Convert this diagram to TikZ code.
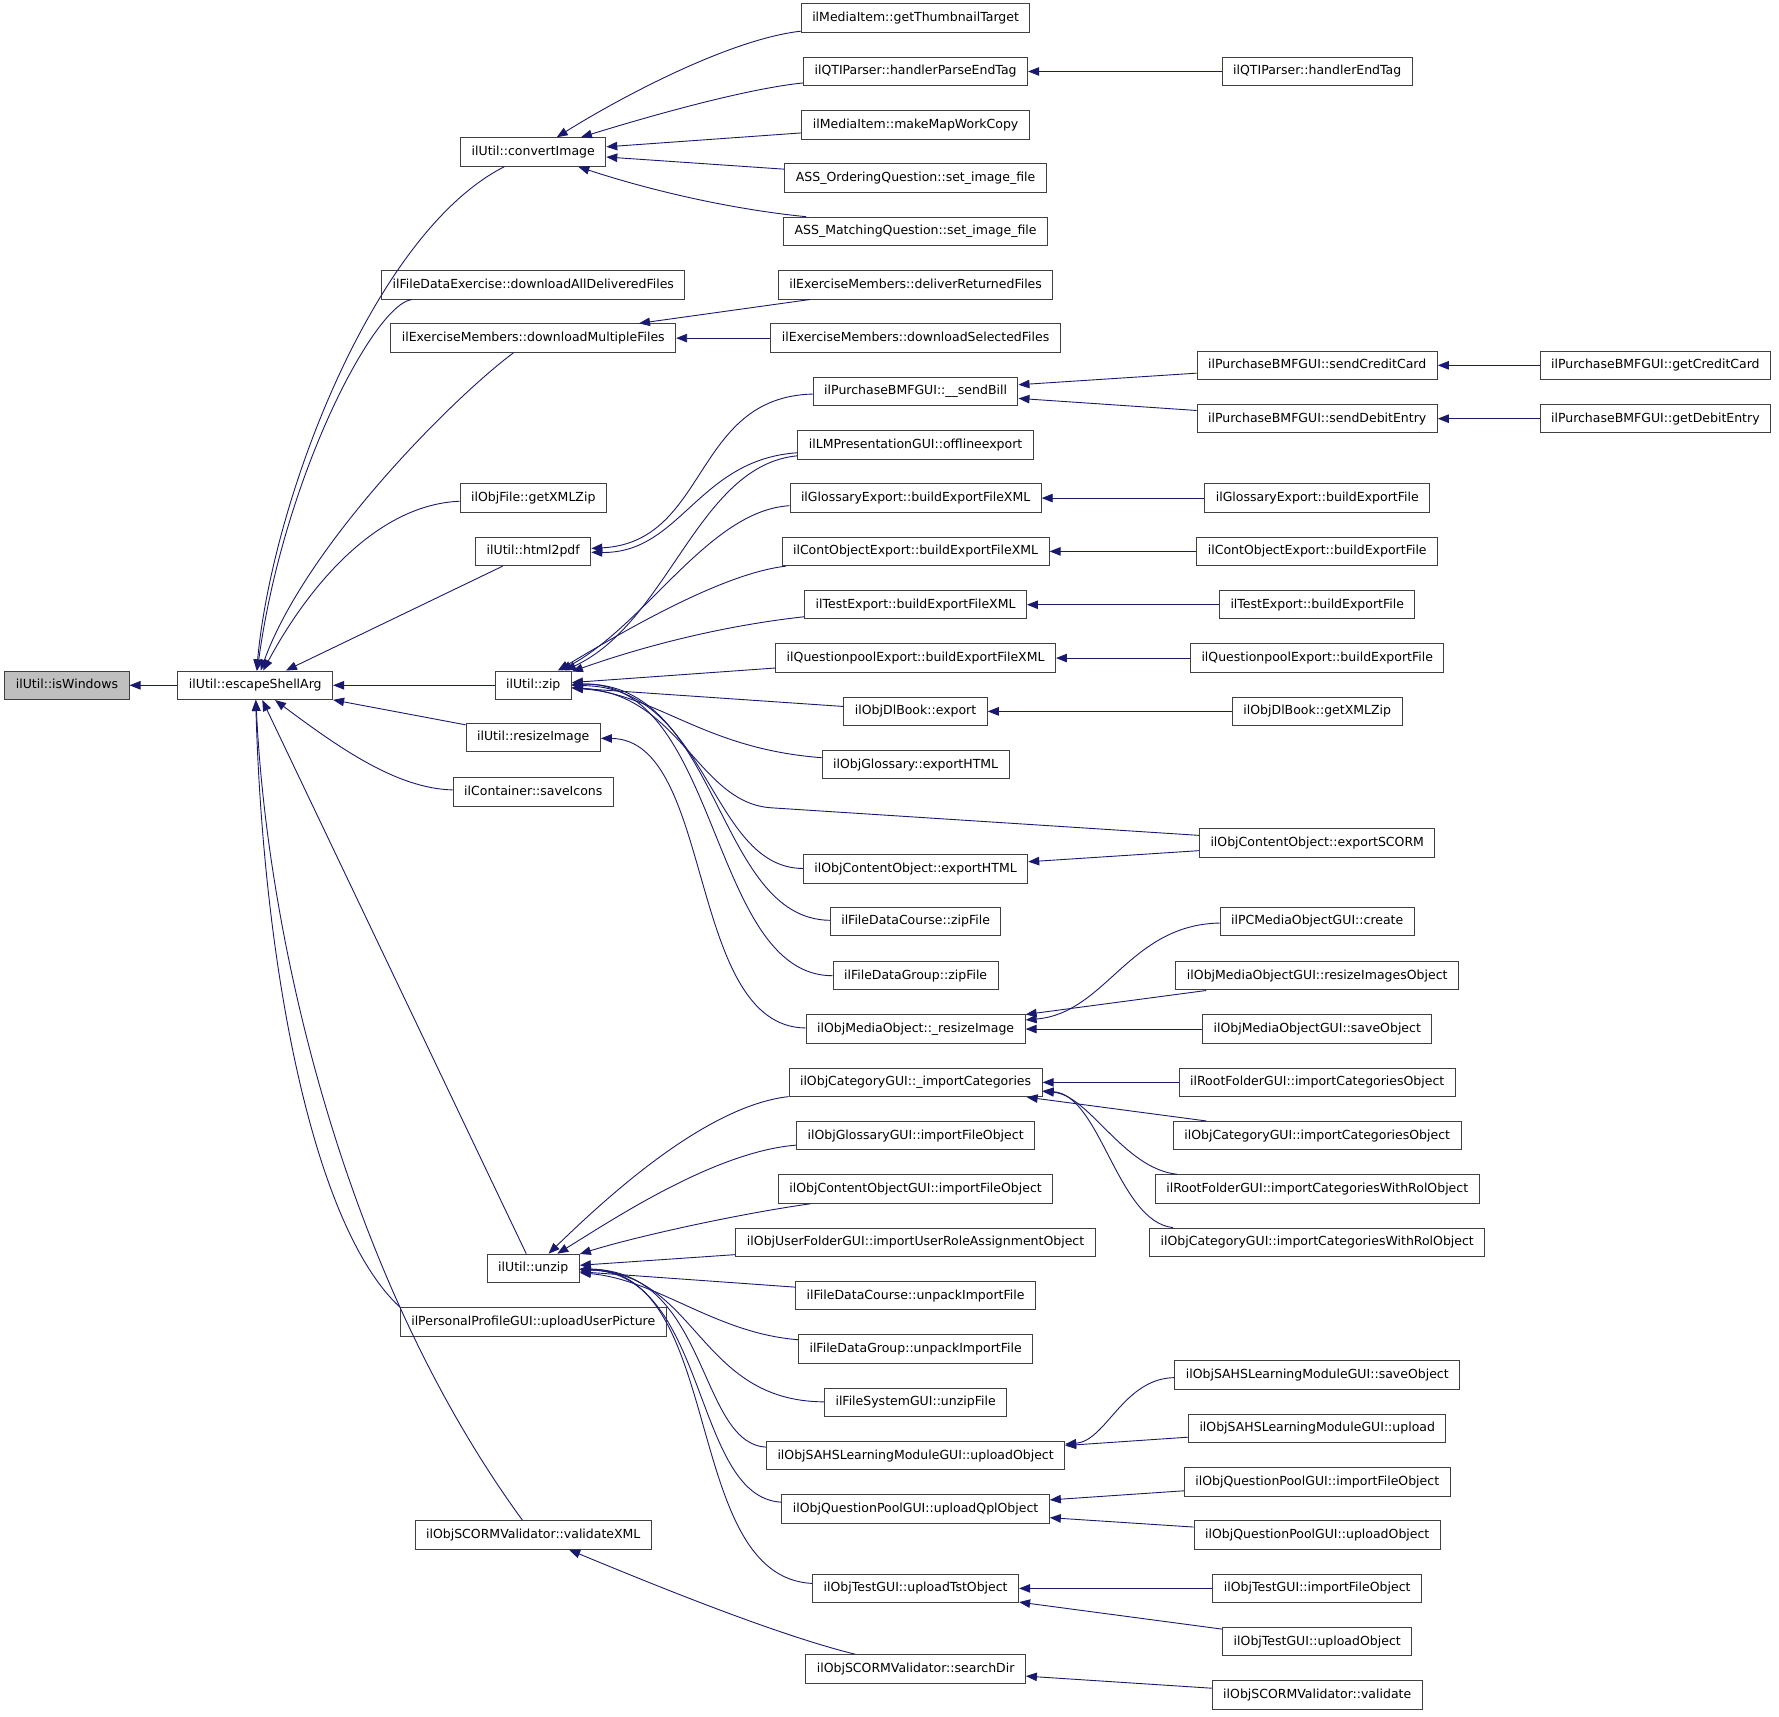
\documentclass[tikz,border=0pt]{standalone}
\usepackage{fontspec}
\setmainfont{DejaVu Sans}
\usepackage{xcolor}
\usepackage{tikz}
\usetikzlibrary{arrows.meta}

\definecolor{edgeblue}{HTML}{191970}
\definecolor{focusgray}{HTML}{BFBFBF}

\begin{document}
\begin{tikzpicture}[
    x=1.1346pt, y=-1.1346pt,
    fn/.style={rectangle, draw=black!75, line width=1pt, fill=white, inner xsep=11pt, inner ysep=0pt, minimum height=28.5pt, text height=9.5pt, text depth=2.5pt, font=\fontsize{12.5}{14}\selectfont},
    focus/.style={fn, fill=focusgray},
    arrow/.style={<-, >={Triangle[length=11pt, width=8.5pt]}, draw=edgeblue, line width=0.9pt}
]
\useasboundingbox (0,0) rectangle (1568,1513);

% Root and direct caller
\node[focus] (isWin) at (59, 604) {ilUtil::isWindows};
\node[fn] (escArg) at (225, 604) {ilUtil::escapeShellArg};

% Callers of escapeShellArg
\node[fn] (convImg) at (470, 134) {ilUtil::convertImage};
\node[fn] (dlAll) at (470, 251) {ilFileDataExercise::downloadAllDeliveredFiles};
\node[fn] (dlMulti) at (470, 298) {ilExerciseMembers::downloadMultipleFiles};
\node[fn] (objFileZip) at (470, 439) {ilObjFile::getXMLZip};
\node[fn] (html2pdf) at (470, 486) {ilUtil::html2pdf};
\node[fn] (zip) at (470, 604) {ilUtil::zip};
\node[fn] (resizeImg) at (470, 650) {ilUtil::resizeImage};
\node[fn] (saveIcons) at (470, 698) {ilContainer::saveIcons};
\node[fn] (unzip) at (470, 1118) {ilUtil::unzip};
\node[fn] (uploadPic) at (470, 1165) {ilPersonalProfileGUI::uploadUserPicture};
\node[fn] (validateXML) at (470, 1353) {ilObjSCORMValidator::validateXML};

% Third level
\node[fn] (thumb) at (807, 16) {ilMediaItem::getThumbnailTarget};
\node[fn] (parseEnd) at (807, 63) {ilQTIParser::handlerParseEndTag};
\node[fn] (mapCopy) at (807, 110) {ilMediaItem::makeMapWorkCopy};
\node[fn] (ordering) at (807, 157) {ASS\_OrderingQuestion::set\_image\_file};
\node[fn] (matching) at (807, 204) {ASS\_MatchingQuestion::set\_image\_file};
\node[fn] (deliverRet) at (807, 251) {ilExerciseMembers::deliverReturnedFiles};
\node[fn] (dlSel) at (807, 298) {ilExerciseMembers::downloadSelectedFiles};
\node[fn] (sendBill) at (807, 345) {ilPurchaseBMFGUI::\_\_sendBill};
\node[fn] (offline) at (807, 392) {ilLMPresentationGUI::offlineexport};
\node[fn] (glossXML) at (807, 439) {ilGlossaryExport::buildExportFileXML};
\node[fn] (contXML) at (807, 486) {ilContObjectExport::buildExportFileXML};
\node[fn] (testXML) at (807, 533) {ilTestExport::buildExportFileXML};
\node[fn] (qpoolXML) at (807, 580) {ilQuestionpoolExport::buildExportFileXML};
\node[fn] (dlExport) at (807, 627) {ilObjDlBook::export};
\node[fn] (glossHTML) at (807, 674) {ilObjGlossary::exportHTML};
\node[fn] (coHTML) at (807, 766) {ilObjContentObject::exportHTML};
\node[fn] (courseZip) at (807, 812) {ilFileDataCourse::zipFile};
\node[fn] (groupZip) at (807, 860) {ilFileDataGroup::zipFile};
\node[fn] (moResize) at (807, 907) {ilObjMediaObject::\_resizeImage};
\node[fn] (importCat) at (807, 954) {ilObjCategoryGUI::\_importCategories};
\node[fn] (glossImport) at (807, 1001) {ilObjGlossaryGUI::importFileObject};
\node[fn] (coImport) at (807, 1048) {ilObjContentObjectGUI::importFileObject};
\node[fn] (roleImport) at (807, 1095) {ilObjUserFolderGUI::importUserRoleAssignmentObject};
\node[fn] (courseUnpack) at (807, 1142) {ilFileDataCourse::unpackImportFile};
\node[fn] (groupUnpack) at (807, 1189) {ilFileDataGroup::unpackImportFile};
\node[fn] (unzipFile) at (807, 1236) {ilFileSystemGUI::unzipFile};
\node[fn] (sahsUpload) at (807, 1283) {ilObjSAHSLearningModuleGUI::uploadObject};
\node[fn] (qplUpload) at (807, 1330) {ilObjQuestionPoolGUI::uploadQplObject};
\node[fn] (tstUpload) at (807, 1400) {ilObjTestGUI::uploadTstObject};
\node[fn] (searchDir) at (807, 1471) {ilObjSCORMValidator::searchDir};

% Fourth level
\node[fn] (endTag) at (1161, 63) {ilQTIParser::handlerEndTag};
\node[fn] (creditCard) at (1161, 322) {ilPurchaseBMFGUI::sendCreditCard};
\node[fn] (debitEntry) at (1161, 369) {ilPurchaseBMFGUI::sendDebitEntry};
\node[fn] (glossFile) at (1161, 439) {ilGlossaryExport::buildExportFile};
\node[fn] (contFile) at (1161, 486) {ilContObjectExport::buildExportFile};
\node[fn] (testFile) at (1161, 533) {ilTestExport::buildExportFile};
\node[fn] (qpoolFile) at (1161, 580) {ilQuestionpoolExport::buildExportFile};
\node[fn] (dlZip) at (1161, 627) {ilObjDlBook::getXMLZip};
\node[fn] (exportSCORM) at (1161, 743) {ilObjContentObject::exportSCORM};
\node[fn] (pcCreate) at (1161, 812) {ilPCMediaObjectGUI::create};
\node[fn] (moResizeObj) at (1161, 860) {ilObjMediaObjectGUI::resizeImagesObject};
\node[fn] (moSave) at (1161, 907) {ilObjMediaObjectGUI::saveObject};
\node[fn] (rootImport) at (1161, 954) {ilRootFolderGUI::importCategoriesObject};
\node[fn] (catImport) at (1161, 1001) {ilObjCategoryGUI::importCategoriesObject};
\node[fn] (rootImportRol) at (1161, 1048) {ilRootFolderGUI::importCategoriesWithRolObject};
\node[fn] (catImportRol) at (1161, 1095) {ilObjCategoryGUI::importCategoriesWithRolObject};
\node[fn] (sahsSave) at (1161, 1212) {ilObjSAHSLearningModuleGUI::saveObject};
\node[fn] (sahsUp) at (1161, 1259) {ilObjSAHSLearningModuleGUI::upload};
\node[fn] (qpImport) at (1161, 1306) {ilObjQuestionPoolGUI::importFileObject};
\node[fn] (qpUpload) at (1161, 1353) {ilObjQuestionPoolGUI::uploadObject};
\node[fn] (tstImport) at (1161, 1400) {ilObjTestGUI::importFileObject};
\node[fn] (tstUp) at (1161, 1447) {ilObjTestGUI::uploadObject};
\node[fn] (validate) at (1161, 1494) {ilObjSCORMValidator::validate};

% Fifth level
\node[fn] (getCredit) at (1459, 322) {ilPurchaseBMFGUI::getCreditCard};
\node[fn] (getDebit) at (1459, 369) {ilPurchaseBMFGUI::getDebitEntry};

% Edges into escapeShellArg
\draw[arrow] (isWin) -- (escArg);
\draw[arrow] (escArg) .. controls (240,440) and (330,205) .. (convImg);
\draw[arrow] (escArg) .. controls (250,420) and (330,268) .. (dlAll);
\draw[arrow] (escArg) .. controls (270,480) and (400,350) .. (dlMulti);
\draw[arrow] (escArg) .. controls (270,520) and (330,445) .. (objFileZip);
\draw[arrow] (escArg) -- (html2pdf);
\draw[arrow] (escArg) -- (zip);
\draw[arrow] (escArg) -- (resizeImg);
\draw[arrow] (escArg) .. controls (300,660) and (350,695) .. (saveIcons);
\draw[arrow] (escArg) -- (unzip);
\draw[arrow] (escArg) .. controls (232,850) and (275,1080) .. (uploadPic.north west);
\draw[arrow] (escArg) .. controls (235,820) and (300,1120) .. (validateXML);

% convertImage, downloadMultipleFiles, html2pdf
\draw[arrow] (convImg) .. controls (540,90) and (640,35) .. (thumb);
\draw[arrow] (convImg) .. controls (580,100) and (660,78) .. (parseEnd);
\draw[arrow] (convImg) -- (mapCopy);
\draw[arrow] (convImg) -- (ordering);
\draw[arrow] (convImg) .. controls (580,170) and (650,185) .. ([xshift=23pt]matching.north west);
\draw[arrow] (parseEnd) -- (endTag);
\draw[arrow] (dlMulti) -- (deliverRet);
\draw[arrow] (dlMulti) -- (dlSel);
\draw[arrow] (html2pdf) .. controls (625,478) and (610,350) .. (sendBill);
\draw[arrow] (html2pdf) .. controls (600,488) and (615,405) .. (offline);

% zip and resizeImage
\draw[arrow] (zip) .. controls (590,548) and (615,410) .. (offline);
\draw[arrow] (zip) .. controls (570,550) and (625,450) .. (glossXML);
\draw[arrow] (zip) .. controls (560,550) and (640,505) .. (contXML);
\draw[arrow] (zip) .. controls (580,565) and (650,550) .. (testXML);
\draw[arrow] (zip) -- (qpoolXML);
\draw[arrow] (zip) -- (dlExport);
\draw[arrow] (zip) .. controls (580,612) and (620,660) .. (glossHTML);
\draw[arrow] (zip) .. controls (600,612) and (615,708) .. (680,712) -- (exportSCORM);
\draw[arrow] (zip) .. controls (625,605) and (625,765) .. (coHTML);
\draw[arrow] (zip) .. controls (635,600) and (630,810) .. (courseZip);
\draw[arrow] (zip) .. controls (635,600) and (625,860) .. (groupZip);
\draw[arrow] (resizeImg) .. controls (630,652) and (605,905) .. (moResize);
\draw[arrow] (coHTML) -- (exportSCORM);

% Right side
\draw[arrow] (sendBill) -- (creditCard);
\draw[arrow] (sendBill) -- (debitEntry);
\draw[arrow] (creditCard) -- (getCredit);
\draw[arrow] (debitEntry) -- (getDebit);
\draw[arrow] (glossXML) -- (glossFile);
\draw[arrow] (contXML) -- (contFile);
\draw[arrow] (testXML) -- (testFile);
\draw[arrow] (qpoolXML) -- (qpoolFile);
\draw[arrow] (dlExport) -- (dlZip);
\draw[arrow] (moResize) .. controls (975,893) and (995,815) .. (pcCreate);
\draw[arrow] (moResize) -- (moResizeObj);
\draw[arrow] (moResize) -- (moSave);
\draw[arrow] (importCat) -- (rootImport);
\draw[arrow] (importCat) -- (catImport);
\draw[arrow] (importCat) .. controls (960,965) and (990,1030) .. (rootImportRol);
\draw[arrow] (importCat) .. controls (970,965) and (985,1077) .. (catImportRol);

% unzip
\draw[arrow] (unzip) .. controls (530,1060) and (620,975) .. (importCat);
\draw[arrow] (unzip) .. controls (540,1075) and (630,1015) .. (glossImport);
\draw[arrow] (unzip) .. controls (560,1090) and (650,1070) .. (coImport);
\draw[arrow] (unzip) -- (roleImport);
\draw[arrow] (unzip) -- (courseUnpack);
\draw[arrow] (unzip) .. controls (580,1128) and (630,1175) .. (groupUnpack);
\draw[arrow] (unzip) .. controls (615,1122) and (615,1235) .. (unzipFile);
\draw[arrow] (unzip) .. controls (625,1120) and (615,1272) .. (sahsUpload);
\draw[arrow] (unzip) .. controls (625,1122) and (610,1320) .. (qplUpload);
\draw[arrow] (unzip) .. controls (640,1120) and (600,1390) .. (tstUpload);
\draw[arrow] (sahsUpload) .. controls (975,1270) and (990,1215) .. (sahsSave);
\draw[arrow] (sahsUpload) -- (sahsUp);
\draw[arrow] (qplUpload) -- (qpImport);
\draw[arrow] (qplUpload) -- (qpUpload);
\draw[arrow] (tstUpload) -- (tstImport);
\draw[arrow] (tstUpload) -- (tstUp);

% validateXML
\draw[arrow] (validateXML) .. controls (560,1390) and (680,1440) .. (searchDir);
\draw[arrow] (searchDir) -- (validate);

\end{tikzpicture}
\end{document}
